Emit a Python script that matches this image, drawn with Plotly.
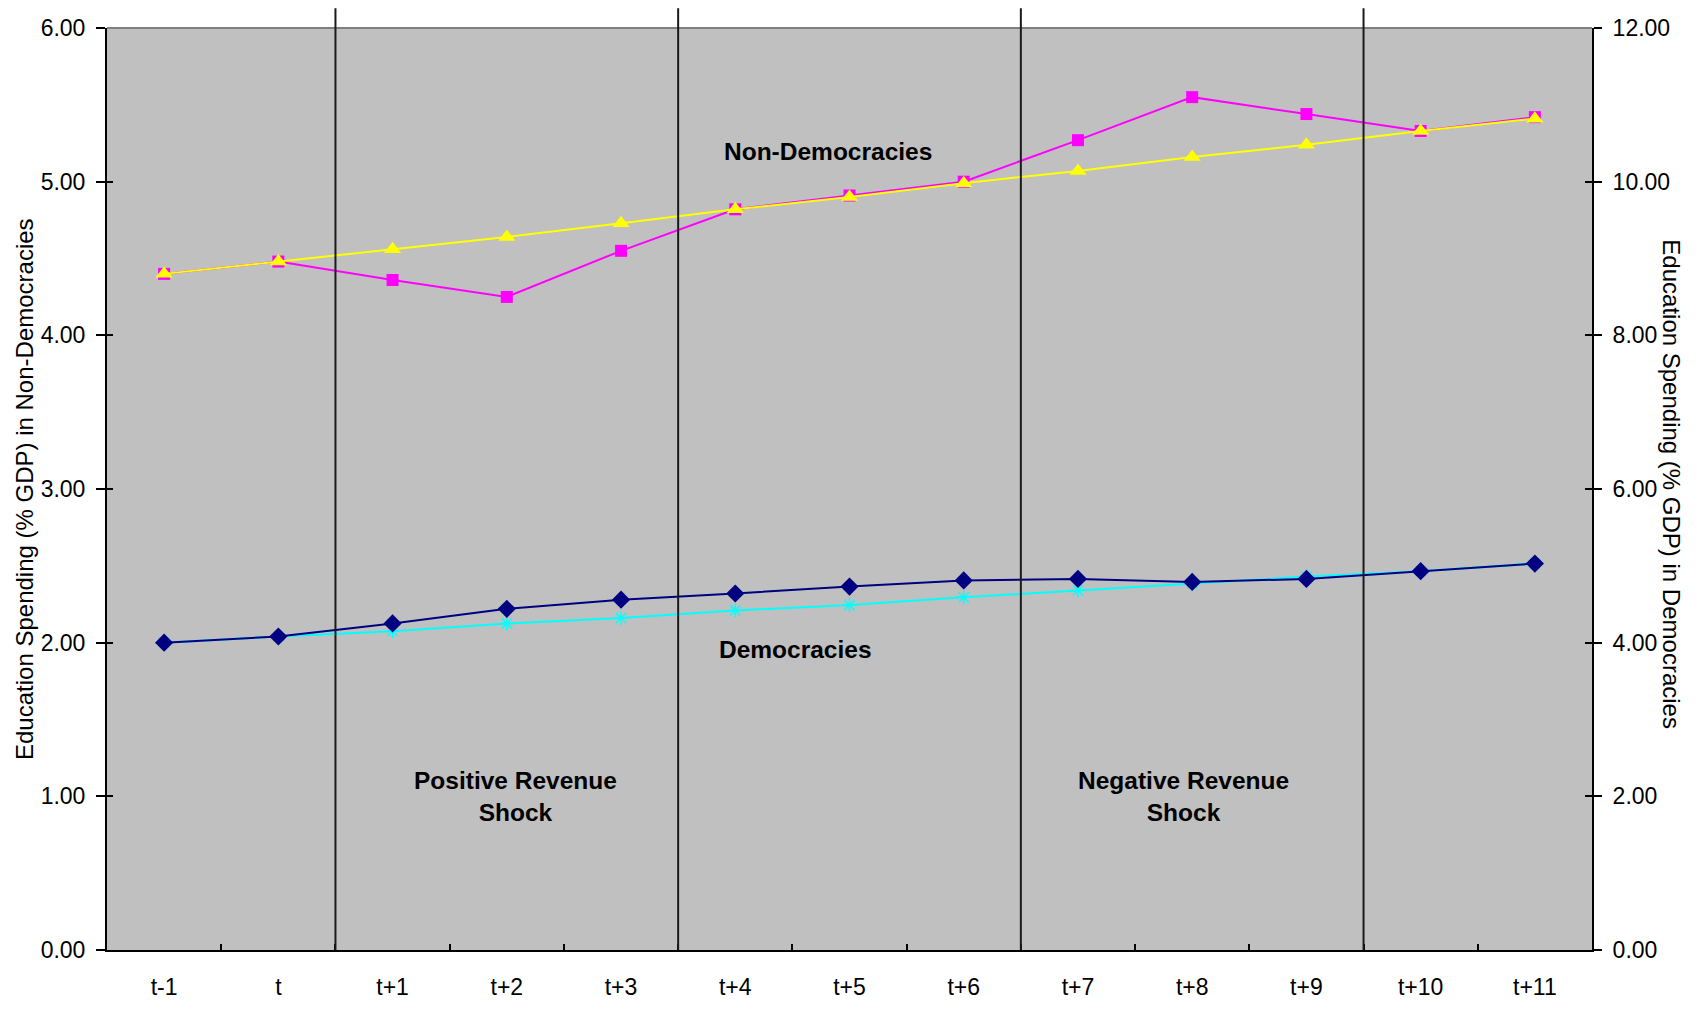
import plotly.graph_objects as go

categories = ["t-1", "t", "t+1", "t+2", "t+3", "t+4", "t+5", "t+6",
              "t+7", "t+8", "t+9", "t+10", "t+11"]

# Non-Democracies (left axis)
nondem_actual = [4.40, 4.48, 4.36, 4.25, 4.55, 4.82, 4.91, 5.00,
                 5.27, 5.55, 5.44, 5.33, 5.42]
nondem_trend = [4.40, 4.48, 4.56, 4.64, 4.73, 4.82, 4.90, 4.99,
                5.07, 5.16, 5.24, 5.33, 5.41]

# Democracies (right axis)
dem_actual = [4.00, 4.08, 4.25, 4.44, 4.56, 4.64, 4.73, 4.81,
              4.83, 4.79, 4.83, 4.93, 5.03]
dem_trend = [4.00, 4.08, 4.15, 4.25, 4.32, 4.42, 4.49, 4.59,
             4.68, 4.77, 4.86, 4.93, 5.03]

left_ticks = [0, 1, 2, 3, 4, 5, 6]
right_ticks = [0, 2, 4, 6, 8, 10, 12]

# vertical separators: after these categories
boundary_after = ["t", "t+3", "t+6", "t+9"]

FONT = "Liberation Sans, Arial, sans-serif"

fig = go.Figure()

fig.add_trace(go.Scatter(
    x=categories, y=nondem_actual, mode="lines+markers", yaxis="y",
    line=dict(color="#FF00FF", width=2),
    marker=dict(symbol="square", size=12, color="#FF00FF"),
    showlegend=False))
fig.add_trace(go.Scatter(
    x=categories, y=nondem_trend, mode="lines+markers", yaxis="y",
    line=dict(color="#FFFF00", width=2),
    marker=dict(symbol="triangle-up", size=15, color="#FFFF00"),
    showlegend=False))
fig.add_trace(go.Scatter(
    x=categories, y=dem_trend, mode="lines+markers", yaxis="y2",
    line=dict(color="#00FFFF", width=2),
    marker=dict(symbol="asterisk-open", size=12, color="#00FFFF",
                line=dict(color="#00FFFF", width=1.5)),
    showlegend=False))
fig.add_trace(go.Scatter(
    x=categories, y=dem_actual, mode="lines+markers", yaxis="y2",
    line=dict(color="#000080", width=2),
    marker=dict(symbol="diamond", size=14, color="#000080"),
    showlegend=False))

shapes = []
for c in boundary_after:
    xb = categories.index(c) + 0.5
    shapes.append(dict(type="line", xref="x", yref="paper",
                       x0=xb, x1=xb, y0=0, y1=1.0215,
                       line=dict(color="#1a1a1a", width=2)))
# top border of plot area
shapes.append(dict(type="line", xref="paper", yref="paper",
                   x0=0, x1=1, y0=1, y1=1,
                   line=dict(color="#808080", width=2), layer="below"))

annot_font = dict(family=FONT, size=24.5, color="black")
title_font = dict(family=FONT, size=24, color="black")
annotations = [
    dict(x=5.81, y=5.195, xref="x", yref="y", text="<b>Non-Democracies</b>",
         showarrow=False, font=annot_font),
    dict(x=5.53, y=1.955, xref="x", yref="y", text="<b>Democracies</b>",
         showarrow=False, font=annot_font),
    dict(x=3.08, y=1.0, xref="x", yref="y",
         text="<b>Positive Revenue<br>Shock</b>",
         showarrow=False, font=annot_font),
    dict(x=8.92, y=1.0, xref="x", yref="y",
         text="<b>Negative Revenue<br>Shock</b>",
         showarrow=False, font=annot_font),
    dict(x=-0.0559, y=0.5, xref="paper", yref="paper", textangle=-90,
         xanchor="center", yanchor="middle",
         text="Education Spending (% GDP) in Non-Democracies",
         showarrow=False, font=title_font),
    dict(x=1.0539, y=0.505, xref="paper", yref="paper", textangle=90,
         xanchor="center", yanchor="middle",
         text="Education Spending (% GDP) in Democracies",
         showarrow=False, font=title_font),
]

tickfont = dict(family=FONT, size=23, color="black")

fig.update_layout(
    width=1698, height=1012,
    margin=dict(l=107, r=106, t=28, b=53),
    paper_bgcolor="white",
    plot_bgcolor="#C0C0C0",
    shapes=shapes,
    annotations=annotations,
    xaxis=dict(
        type="category", categoryorder="array", categoryarray=categories,
        range=[-0.5, len(categories) - 0.5],
        tickson="boundaries", ticks="inside", ticklen=6, tickwidth=2,
        tickcolor="black", showline=True, linecolor="black", linewidth=2,
        showgrid=False, zeroline=False, tickfont=tickfont,
        ticklabelstandoff=15,
    ),
    yaxis=dict(
        range=[0, 6], tickvals=left_ticks,
        ticktext=[f"{v:.2f}" for v in left_ticks],
        ticks="outside", ticklen=9, tickwidth=2, tickcolor="black",
        showline=True, linecolor="black", linewidth=2,
        showgrid=False, zeroline=False, tickfont=tickfont,
        ticklabelstandoff=6,
    ),
    yaxis2=dict(
        range=[0, 12], tickvals=right_ticks,
        ticktext=[f"{v:.2f}" for v in right_ticks],
        overlaying="y", side="right",
        ticks="outside", ticklen=8, tickwidth=2, tickcolor="black",
        showline=True, linecolor="black", linewidth=2,
        showgrid=False, zeroline=False, tickfont=tickfont,
        ticklabelstandoff=6,
    ),
    yaxis3=dict(
        range=[0, 6], tickvals=left_ticks, overlaying="y", side="left",
        ticks="inside", ticklen=6, tickwidth=2, tickcolor="black",
        showticklabels=False, showline=False, showgrid=False, zeroline=False,
    ),
    yaxis4=dict(
        range=[0, 12], tickvals=right_ticks, overlaying="y", side="right",
        ticks="inside", ticklen=7, tickwidth=2, tickcolor="black",
        showticklabels=False, showline=False, showgrid=False, zeroline=False,
    ),
)

# empty helper traces so the tick-only overlay axes are drawn
fig.add_trace(go.Scatter(x=categories, y=[None] * len(categories), yaxis="y3",
                         showlegend=False, hoverinfo="skip"))
fig.add_trace(go.Scatter(x=categories, y=[None] * len(categories), yaxis="y4",
                         showlegend=False, hoverinfo="skip"))

# remove the default page margin so the figure fills the window exactly
fig.write_html(
    "out.html",
    config={"displayModeBar": False},
    post_script="document.body.style.margin='0';"
                "document.documentElement.style.overflow='hidden';",
)
